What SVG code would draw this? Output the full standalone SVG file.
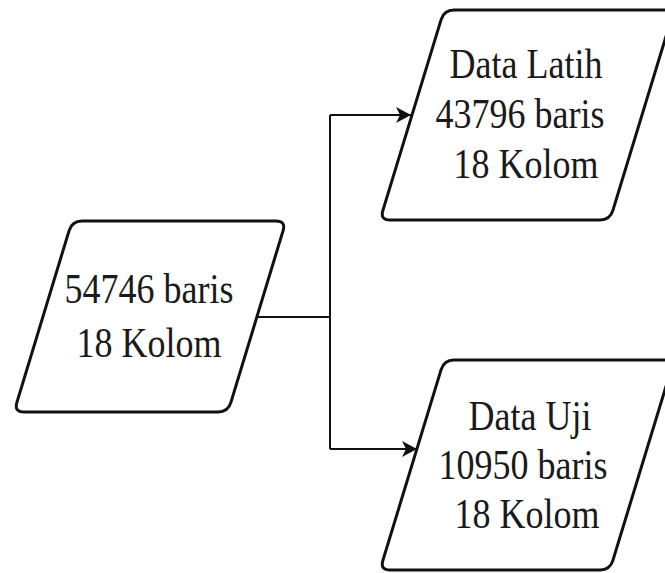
<svg xmlns="http://www.w3.org/2000/svg" width="665" height="573" viewBox="0 0 665 573">
  <style>
    .shape { fill: #ffffff; stroke: #111111; stroke-width: 3; stroke-linejoin: round; }
    .link { fill: none; stroke: #111111; stroke-width: 2; }
    .label { font-family: "Liberation Serif", "DejaVu Serif", serif; font-size: 36px; fill: #1a1a1a; text-anchor: middle; }
  </style>
  <defs>
    <marker id="arrow" markerUnits="userSpaceOnUse" markerWidth="16" markerHeight="18" refX="15" refY="8" orient="auto">
      <path d="M0,0 L15,8 L0,16 L4,8 Z" fill="#111111"/>
    </marker>
  </defs>

  <rect width="665" height="573" fill="#ffffff"/>

  <!-- connectors -->
  <g id="connectors">
    <path class="link" d="M257,317 L330,317"/>
    <path class="link" d="M330,115 L330,449"/>
    <path class="link" d="M330,115 L411,115" marker-end="url(#arrow)"/>
    <path class="link" d="M330,449 L417,449" marker-end="url(#arrow)"/>
  </g>

  <!-- source dataset -->
  <g id="node-source">
    <path class="shape" d="M82,221 L276,221 Q286,221 283.1,230.6 L230.9,402.4 Q228,412 218,412 L24,412 Q14,412 16.9,402.4 L69.1,230.6 Q72,221 82,221 Z"/>
    <text class="label" font-family="Liberation Serif, serif" transform="translate(149,303) scale(1,1.15)">54746 baris</text>
    <text class="label" font-family="Liberation Serif, serif" transform="translate(149,357) scale(1,1.15)">18 Kolom</text>
  </g>

  <!-- training split -->
  <g id="node-train">
    <path class="shape" d="M454,10 L664,10 Q674,10 671.1,19.6 L612.9,210.4 Q610,220 600,220 L390,220 Q380,220 382.9,210.4 L441.1,19.6 Q444,10 454,10 Z"/>
    <text class="label" font-family="Liberation Serif, serif" transform="translate(526,78) scale(1,1.15)">Data Latih</text>
    <text class="label" font-family="Liberation Serif, serif" transform="translate(520,128) scale(1,1.15)">43796 baris</text>
    <text class="label" font-family="Liberation Serif, serif" transform="translate(526,178) scale(1,1.15)">18 Kolom</text>
  </g>

  <!-- test split -->
  <g id="node-test">
    <path class="shape" d="M454,360 L664,360 Q674,360 671.1,369.6 L612.9,560.4 Q610,570 600,570 L390,570 Q380,570 382.9,560.4 L441.1,369.6 Q444,360 454,360 Z"/>
    <text class="label" font-family="Liberation Serif, serif" transform="translate(530,430) scale(1,1.15)">Data Uji</text>
    <text class="label" font-family="Liberation Serif, serif" transform="translate(523,479) scale(1,1.15)">10950 baris</text>
    <text class="label" font-family="Liberation Serif, serif" transform="translate(527,528) scale(1,1.15)">18 Kolom</text>
  </g>
</svg>
